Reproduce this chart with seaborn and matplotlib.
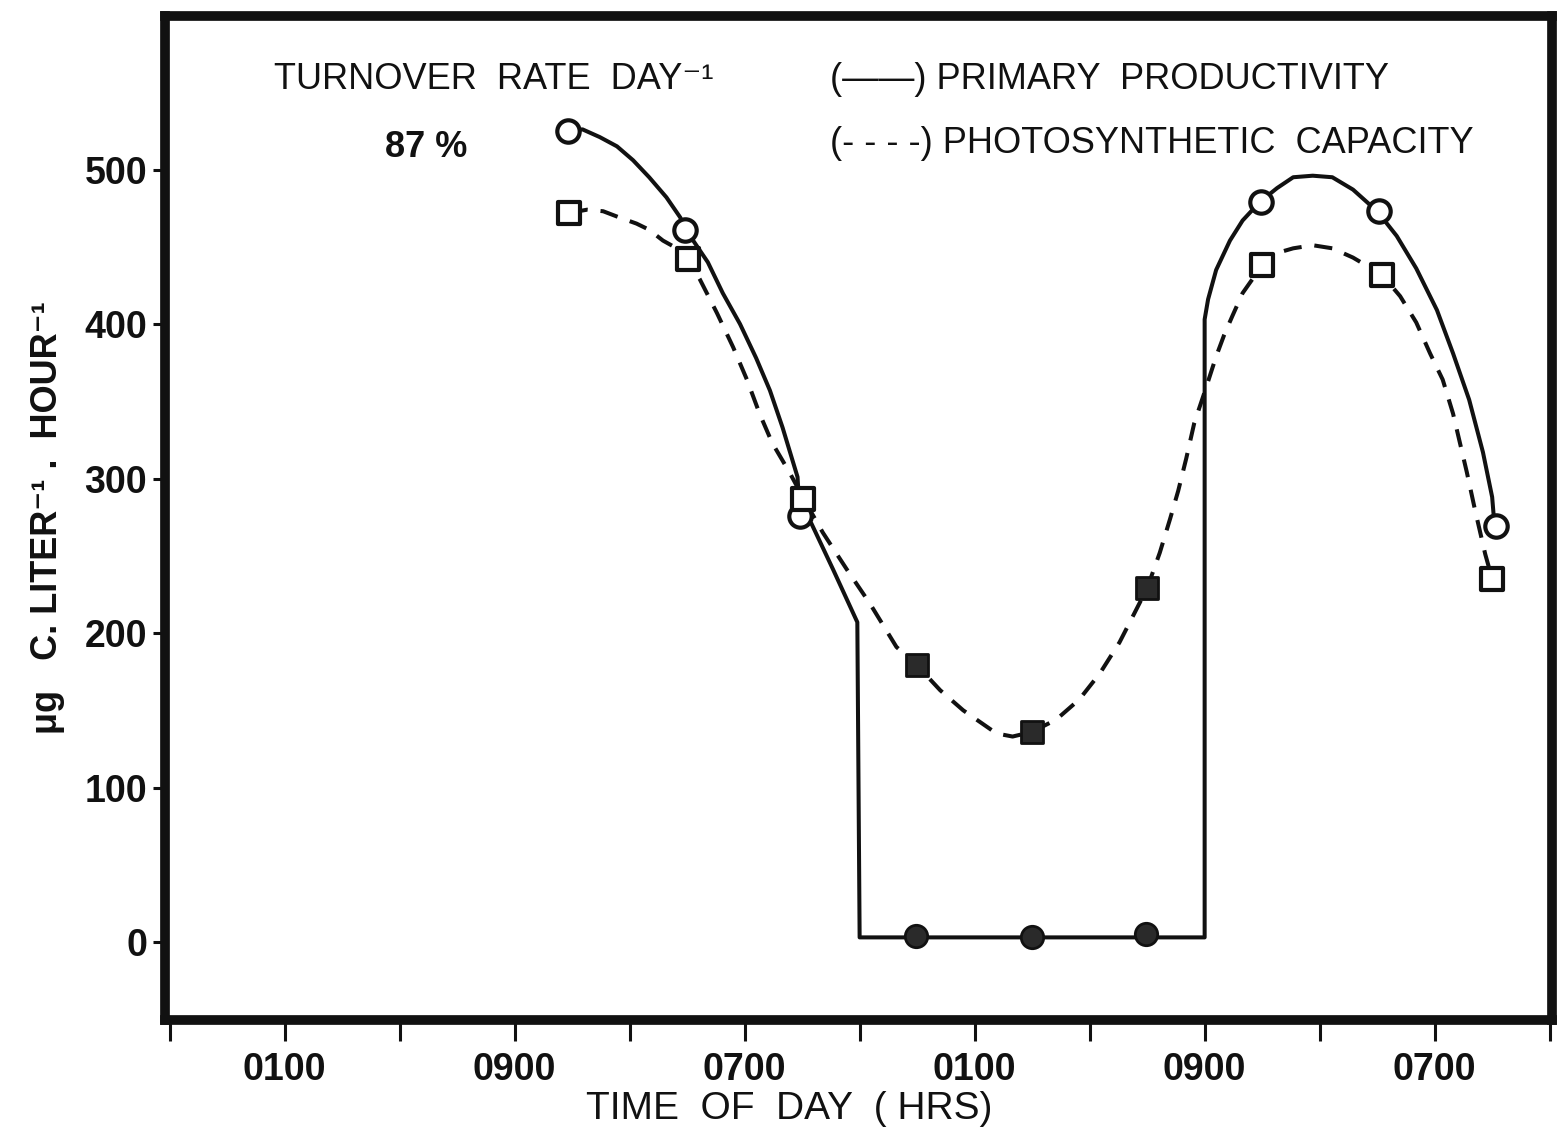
import numpy as np
import pandas as pd
import seaborn as sns
import matplotlib.pyplot as plt

sns.set_theme(style='white')
plt.rcParams['font.family'] = ['Liberation Sans Narrow', 'Liberation Sans', 'DejaVu Sans']

# ---------------- data ----------------
prim_x = [3.46, 4.48, 5.48, 6.49, 7.50, 8.49, 9.49, 10.52, 11.53]
primary = [525, 461, 276, 4, 3, 5, 479, 473, 269]
cap_x = [3.47, 4.51, 5.51, 6.50, 7.50, 8.50, 9.50, 10.54, 11.50]
capacity = [472, 442, 287, 179, 136, 229, 438, 432, 235]
is_dark = [False, False, False, True, True, True, False, False, False]

# traced primary productivity curve (solid)
solid_x = [3.45, 3.59, 3.74, 3.89, 4.03, 4.17, 4.32, 4.44, 4.48,
           4.68, 4.81, 4.96, 5.10, 5.22, 5.33, 5.46, 5.48,
           5.58, 5.77, 5.98, 6.00, 9.00, 9.00,
           9.03, 9.10, 9.22, 9.33, 9.48, 9.63, 9.77, 9.94, 10.11, 10.29,
           10.50, 10.67, 10.84, 11.02, 11.16, 11.30, 11.42, 11.50, 11.52]
solid_y = [524, 526, 521, 515, 506, 495, 482, 469, 462,
           440, 420, 400, 378, 357, 333, 301, 276,
           271, 241, 207, 3, 3, 403,
           416, 435, 454, 467, 479, 488, 495, 496, 495, 487,
           473, 457, 436, 409, 381, 351, 317, 288, 270]

# traced photosynthetic capacity curve (dashed)
dash_x = [3.48, 3.63, 3.77, 3.91, 4.06, 4.17, 4.29, 4.41, 4.50,
          4.61, 4.76, 4.90, 5.02, 5.13, 5.24, 5.39, 5.52,
          5.68, 5.89, 6.09, 6.32, 6.50, 6.70, 6.90, 7.19, 7.33, 7.50,
          7.71, 7.91, 8.09, 8.26, 8.37, 8.50,
          8.61, 8.70, 8.77, 8.84, 8.91, 9.00, 9.10, 9.17, 9.24, 9.33, 9.50,
          9.63, 9.77, 9.94, 10.11, 10.29, 10.54,
          10.70, 10.84, 10.96, 11.07, 11.16, 11.22, 11.28, 11.35, 11.44, 11.50]
dash_y = [472, 474, 473, 469, 465, 461, 454, 449, 443,
          429, 407, 385, 364, 342, 323, 304, 286,
          265, 241, 219, 191, 179, 163, 150, 135, 133, 136,
          144, 157, 174, 194, 210, 229,
          252, 274, 292, 313, 336, 356, 379, 393, 405, 420, 438,
          446, 449, 451, 449, 443, 432,
          418, 401, 381, 364, 342, 323, 304, 280, 251, 235]

tick_pos = list(range(13))
tick_labels = ['', '0100', '', '0900', '', '0700', '', '0100', '', '0900', '', '0700', '']
y_ticks = [0, 100, 200, 300, 400, 500]

prim = pd.DataFrame({'x': prim_x, 'y': primary, 'dark': is_dark})
cap = pd.DataFrame({'x': cap_x, 'y': capacity, 'dark': is_dark})
solid = pd.DataFrame({'x': solid_x, 'y': solid_y})
dashed = pd.DataFrame({'x': dash_x, 'y': dash_y})

# ---------------- figure ----------------
fig = plt.figure(figsize=(15.67, 11.31), dpi=100)
ax = fig.add_axes([0.1053, 0.0981, 0.8851, 0.8878])

ink = '#111111'
sns.lineplot(data=solid, x='x', y='y', sort=False, estimator=None, ax=ax,
             color=ink, lw=2.9, zorder=2)
sns.lineplot(data=dashed, x='x', y='y', sort=False, estimator=None, ax=ax,
             color=ink, lw=2.9, linestyle=(0, (4.5, 3.2)), zorder=2)

sns.scatterplot(data=prim[~prim['dark']], x='x', y='y', marker='o', s=260, ax=ax,
                facecolor='white', edgecolor=ink, linewidth=3, zorder=4)
sns.scatterplot(data=prim[prim['dark']], x='x', y='y', marker='o', s=260, ax=ax,
                facecolor='#2a2a2a', edgecolor=ink, linewidth=2, zorder=4)
sns.scatterplot(data=cap[~cap['dark']], x='x', y='y', marker='s', s=240, ax=ax,
                facecolor='white', edgecolor=ink, linewidth=3, zorder=4)
sns.scatterplot(data=cap[cap['dark']], x='x', y='y', marker='s', s=240, ax=ax,
                facecolor='#2a2a2a', edgecolor=ink, linewidth=2, zorder=4)

ax.set_xlim(-0.04, 12.02)
ax.set_ylim(-50.5, 599.4)

for sp in ax.spines.values():
    sp.set_visible(True)
    sp.set_color(ink)
    sp.set_linewidth(7)

ax.set_xticks(tick_pos)
ax.set_xticklabels(tick_labels)
ax.set_yticks(y_ticks)
ax.set_yticklabels([str(v) for v in y_ticks])
ax.tick_params(axis='x', direction='out', length=15, width=2.2, color=ink,
               bottom=True, labelsize=27, pad=8, labelcolor=ink)
ax.tick_params(axis='y', direction='out', length=9, width=2.2, color=ink,
               left=True, labelsize=27, pad=4, labelcolor=ink)
for lab in ax.get_yticklabels():
    lab.set_fontweight('bold')
for lab in ax.get_xticklabels():
    lab.set_fontweight('bold')

ax.set_xlabel('TIME  OF  DAY  ( HRS)', fontsize=28, color=ink)
ax.xaxis.set_label_coords(0.45, -0.071)
ax.set_ylabel('\u03bcg   C. LITER\u207b\u00b9 .  HOUR\u207b\u00b9', fontsize=26,
              color=ink, fontweight='bold', labelpad=14)
ax.grid(False)

ax.text(0.91, 558, 'TURNOVER  RATE  DAY\u207b\u00b9', fontsize=26, color=ink,
        va='center', ha='left')
ax.text(1.87, 514, '87 %', fontsize=26, color=ink, va='center', ha='left',
        fontweight='bold')
ax.text(5.74, 558, '(\u2014\u2014) PRIMARY  PRODUCTIVITY', fontsize=26, color=ink,
        va='center', ha='left')
ax.text(5.74, 517, '(- - - -) PHOTOSYNTHETIC  CAPACITY', fontsize=26, color=ink,
        va='center', ha='left')

fig.savefig('out.png', dpi=100)
